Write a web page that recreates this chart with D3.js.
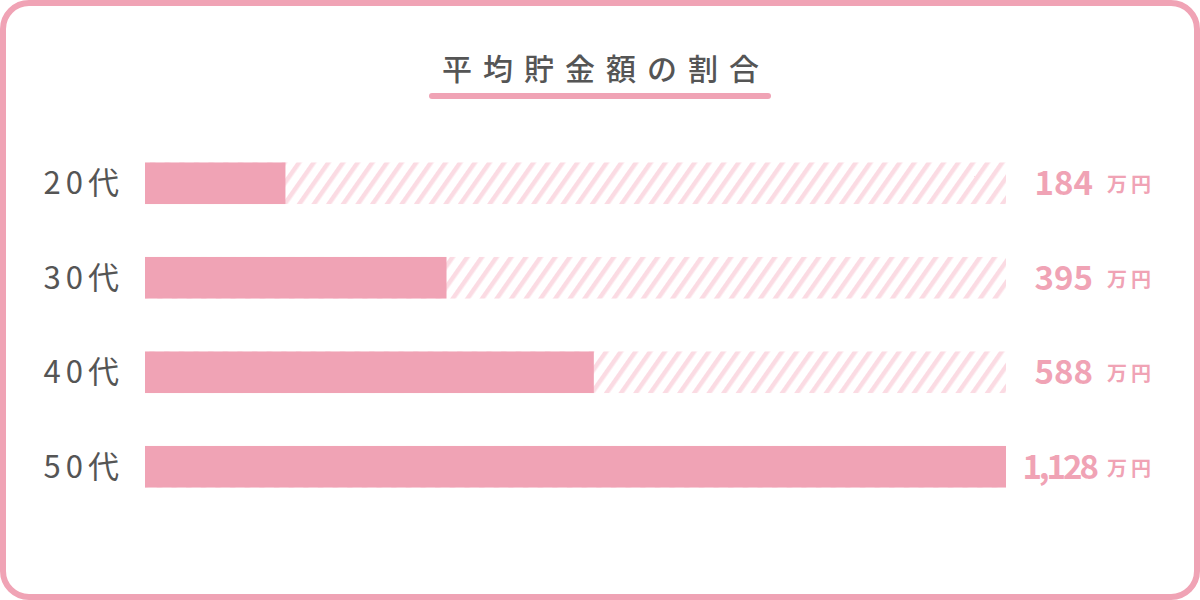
<!DOCTYPE html>
<html>
<head>
<meta charset="utf-8">
<script src="https://cdn.jsdelivr.net/npm/d3@7"></script>
<style>
  body { margin: 0; background: #fff; }
  svg { display: block; font-family: "Noto Sans CJK JP", "Noto Sans", sans-serif; }
</style>
</head>
<body>
<div id="chart"></div>
<script>
// data
const ages = ["20代", "30代", "40代", "50代"];
const savings = [184, 395, 588, 1128];
const valueLabels = ["184", "395", "588", "1,128"];
const unit = "万円";
const title = "平均貯金額の割合";

const W = 1200, H = 600;
const pink = "#f0a3b5";

const svg = d3.select("#chart").append("svg")
  .attr("width", W)
  .attr("height", H);

// stripe pattern for the empty part of each track
const defs = svg.append("defs");
const pat = defs.append("pattern")
  .attr("id", "hatch")
  .attr("patternUnits", "userSpaceOnUse")
  .attr("width", 12)
  .attr("height", 12)
  .attr("patternTransform", "rotate(35)");
pat.append("rect")
  .attr("width", 4.5)
  .attr("height", 12)
  .attr("fill", "#fbdbe3");

// frame
svg.append("rect")
  .attr("x", 3).attr("y", 3)
  .attr("width", W - 6).attr("height", H - 6)
  .attr("rx", 26)
  .attr("fill", "#fff")
  .attr("stroke", pink)
  .attr("stroke-width", 6);

// title
svg.append("text")
  .attr("x", 606)
  .attr("y", 80)
  .attr("text-anchor", "middle")
  .style("font-size", "30px")
  .style("font-weight", 500)
  .style("letter-spacing", "11px")
  .attr("fill", "#555")
  .text(title);

svg.append("line")
  .attr("x1", 432).attr("x2", 768)
  .attr("y1", 96).attr("y2", 96)
  .attr("stroke", pink)
  .attr("stroke-width", 6)
  .attr("stroke-linecap", "round");

// scales
const x = d3.scaleLinear()
  .domain([0, d3.max(savings)])
  .range([145, 1006]);

const y = d3.scaleBand()
  .domain(ages)
  .range([136, 514])
  .paddingInner(0.56)
  .paddingOuter(0.28);

const rows = svg.selectAll(".row")
  .data(ages.map((a, i) => ({ age: a, value: savings[i], label: valueLabels[i] })))
  .enter().append("g")
  .attr("class", "row");

// hatched track
rows.append("rect")
  .attr("x", x(0))
  .attr("y", d => y(d.age))
  .attr("width", x.range()[1] - x(0))
  .attr("height", y.bandwidth())
  .attr("fill", "url(#hatch)");

// bars
rows.append("rect")
  .attr("x", x(0))
  .attr("y", d => y(d.age))
  .attr("width", d => x(d.value) - x(0))
  .attr("height", y.bandwidth())
  .attr("fill", pink);

// age labels
rows.append("text")
  .attr("x", 124)
  .attr("y", d => y(d.age) + y.bandwidth() / 2)
  .attr("dy", "0.36em")
  .attr("text-anchor", "end")
  .style("font-size", "31px")
  .style("letter-spacing", "5px")
  .attr("fill", "#555")
  .text(d => d.age);

// values (the long one with a comma is set tighter)
rows.append("text")
  .attr("x", d => d.label.includes(",") ? 1096 : 1093)
  .attr("y", d => y(d.age) + y.bandwidth() / 2)
  .attr("dy", "0.36em")
  .attr("text-anchor", "end")
  .style("font-size", "33px")
  .style("font-weight", 700)
  .style("letter-spacing", d => d.label.includes(",") ? "-3px" : "0px")
  .attr("fill", pink)
  .text(d => d.label);

rows.append("text")
  .attr("x", 1107)
  .attr("y", d => y(d.age) + y.bandwidth() / 2)
  .attr("dy", "0.45em")
  .style("font-size", "20px")
  .style("font-weight", 700)
  .style("letter-spacing", "4px")
  .attr("fill", pink)
  .text(unit);
</script>
</body>
</html>
